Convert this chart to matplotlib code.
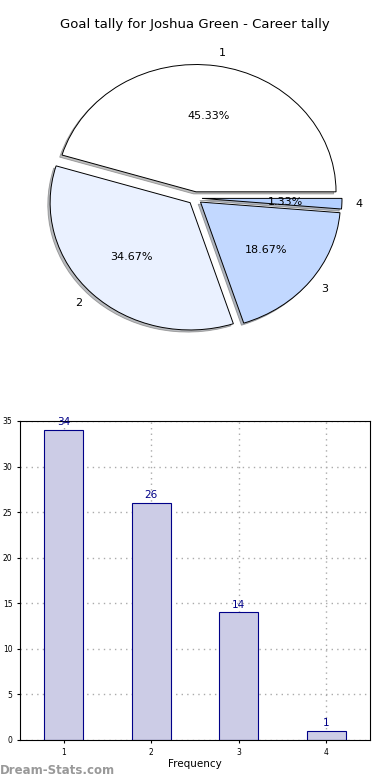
import matplotlib
matplotlib.use("Agg")
import matplotlib.pyplot as plt

# ---------- data ----------
title = "Goal tally for Joshua Green - Career tally"
categories = ["1", "2", "3", "4"]
counts = [34, 26, 14, 1]
pie_colors = ["#ffffff", "#eaf1ff", "#c2d8ff", "#b4d0ff"]
bar_positions = [1, 2, 3, 4]

fig = plt.figure(figsize=(3.9, 7.8), dpi=100)

# ---------- pie ----------
ax1 = fig.add_axes([0.0513, 0.542, 0.8974, 0.408])
wedges, texts, autotexts = ax1.pie(
    counts, labels=categories, colors=pie_colors, explode=[0.05] * 4,
    autopct="%.2f%%", startangle=0, labeldistance=1.1,
    shadow=dict(ox=-0.012, oy=-0.012, shade=0.5, edgecolor="#555555", linewidth=0.6),
    pctdistance=0.6, wedgeprops=dict(edgecolor="black", linewidth=0.7),
    textprops=dict(fontsize=8))
ax1.set_aspect("auto")
ax1.set_xlim(-1.25, 1.25)
ax1.set_ylim(-1.25, 1.25)
ax1.set_title(title, fontsize=9.5, pad=8)

# ---------- bars ----------
ax2 = fig.add_axes([0.0513, 0.0513, 0.8974, 0.409])
bars = ax2.bar(bar_positions, counts, width=0.45, color="#ccccE6",
               edgecolor="#000088", linewidth=0.8, zorder=2)
for x, v in zip(bar_positions, counts):
    ax2.text(x, v + 0.3, str(v), ha="center", va="bottom",
             fontsize=7.5, color="#000088")
ax2.set_xlim(0.5, 4.5)
ax2.set_ylim(0, 35)
ax2.set_xticks(bar_positions)
ax2.set_xticklabels(categories)
ax2.set_yticks(range(0, 36, 5))
ax2.tick_params(labelsize=5.5, length=2)
ax2.grid(True, linestyle=(0, (1, 3)), color="#aaaaaa", linewidth=1, zorder=0)
ax2.set_axisbelow(True)
ax2.set_xlabel("Frequency", fontsize=7.5, labelpad=2)
ax2.set_ylabel("Goal Times Tally", fontsize=7.5, labelpad=6)

fig.text(0.0, 0.004, "Dream-Stats.com", fontsize=8.5, color="#999999",
         fontweight="bold", ha="left", va="bottom")

fig.savefig("out.png", dpi=100)
